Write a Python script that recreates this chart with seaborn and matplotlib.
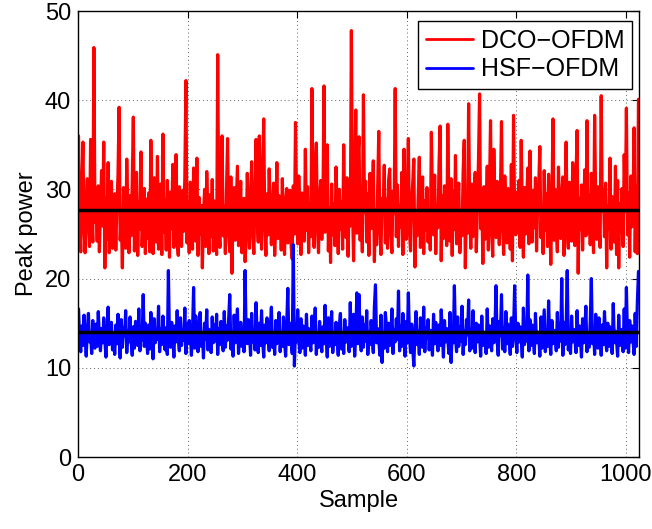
import numpy as np
import pandas as pd
import matplotlib
matplotlib.use("Agg")
import matplotlib.pyplot as plt
import seaborn as sns

# ---- data (one value every 2 samples) ----
dco_ofdm = [
    36.0, 27.1, 23.0, 29.8, 35.3, 25.6, 22.9, 28.4, 31.2, 26.0, 23.6, 35.6, 27.9, 24.1, 45.9, 26.3,
    28.7, 24.2, 30.4, 23.0, 27.5, 32.1, 25.9, 35.3, 21.2, 29.0, 24.4, 33.0, 22.9, 27.8, 30.9, 23.4,
    26.8, 29.5, 23.2, 28.1, 31.6, 39.2, 24.3, 27.0, 21.2, 30.2, 26.1, 23.4, 33.4, 27.6, 22.9, 29.3,
    24.8, 30.7, 38.1, 23.1, 27.3, 31.9, 22.6, 28.6, 25.5, 34.2, 23.6, 27.7, 30.1, 22.8, 28.9, 24.5,
    29.6, 23.0, 35.5, 26.9, 22.8, 31.3, 27.4, 24.1, 33.7, 23.3, 28.3, 30.6, 22.7, 36.2, 25.2, 28.8,
    23.2, 31.0, 27.2, 22.4, 29.7, 25.6, 32.8, 23.5, 28.0, 33.9, 24.4, 22.6, 30.3, 27.1, 23.6, 29.9,
    25.3, 31.5, 42.2, 24.0, 28.5, 22.9, 30.8, 26.7, 23.3, 32.4, 27.9, 24.2, 33.5, 22.6, 29.1, 25.0,
    28.2, 21.2, 26.8, 30.0, 23.6, 32.0, 27.5, 22.8, 29.4, 24.7, 31.1, 23.1, 28.7, 25.4, 22.7, 45.1,
    27.0, 23.5, 30.5, 36.0, 24.8, 28.1, 22.8, 29.8, 35.7, 25.2, 23.0, 31.4, 20.6, 27.6, 30.2, 24.3,
    28.4, 32.6, 23.7, 27.3, 30.9, 22.9, 25.5, 29.0, 21.9, 24.6, 31.8, 27.7, 23.4, 28.9, 33.1, 25.1,
    22.8, 29.2, 35.6, 27.0, 24.1, 36.0, 28.6, 23.3, 31.7, 37.9, 25.9, 22.6, 29.5, 24.9, 32.3, 27.4,
    23.8, 28.3, 30.7, 22.6, 26.7, 33.0, 24.5, 29.3, 27.8, 23.2, 31.2, 25.3, 22.7, 28.8, 30.1, 24.0,
    27.2, 29.9, 23.6, 22.2, 30.4, 25.0, 37.5, 28.1, 23.9, 31.5, 27.3, 22.7, 29.6, 25.6, 24.2, 34.5,
    25.4, 30.3, 22.9, 28.5, 24.7, 41.3, 27.1, 23.5, 32.2, 35.2, 25.8, 22.9, 29.1, 31.0, 24.4, 28.0,
    41.6, 25.2, 29.7, 35.0, 23.1, 27.9, 21.8, 30.6, 24.9, 28.4, 23.7, 32.5, 27.5, 22.8, 30.0, 25.5,
    28.6, 23.3, 35.0, 27.0, 24.6, 31.3, 22.5, 29.2, 25.9, 47.8, 28.2, 22.0, 30.7, 38.9, 25.1, 33.6,
    35.9, 24.3, 28.7, 23.0, 40.6, 27.4, 30.9, 24.1, 29.5, 22.6, 31.8, 25.6, 28.1, 33.2, 21.9, 27.7,
    23.8, 30.1, 36.5, 25.3, 22.7, 29.0, 27.6, 32.7, 24.0, 28.9, 23.4, 31.1, 32.3, 25.0, 22.9, 29.8,
    27.3, 41.3, 24.7, 30.5, 23.6, 28.2, 25.8, 31.9, 22.7, 34.5, 27.0, 24.4, 29.7, 35.7, 25.2, 23.1,
    28.5, 30.8, 33.4, 21.3, 27.2, 24.8, 29.4, 33.6, 23.5, 27.9, 31.4, 22.8, 28.7, 25.4, 30.2, 24.1,
    27.6, 23.2, 36.4, 29.1, 24.9, 31.6, 22.8, 28.3, 25.7, 32.9, 37.1, 22.0, 29.3, 24.5, 30.4, 27.0,
    23.7, 37.3, 28.0, 24.2, 31.2, 22.6, 29.8, 25.5, 33.8, 23.9, 28.6, 30.7, 22.9, 27.4, 24.8, 32.0,
    35.5, 21.2, 28.4, 25.1, 39.6, 27.3, 23.4, 30.6, 24.7, 29.2, 31.9, 23.0, 27.8, 33.3, 40.7, 25.6,
    28.9, 21.7, 30.3, 24.4, 27.5, 32.6, 23.2, 29.6, 37.7, 25.3, 22.5, 34.5, 28.1, 24.6, 30.9, 27.2,
    23.8, 29.4, 37.6, 25.9, 22.7, 31.5, 27.8, 24.0, 30.1, 28.5, 23.3, 32.8, 22.0, 38.3, 27.1, 24.9,
    29.7, 25.2, 31.0, 23.5, 35.5, 27.6, 22.4, 30.2, 25.0, 28.8, 32.4, 23.9, 34.3, 27.3, 24.1, 29.9,
    25.7, 31.3, 23.1, 28.2, 30.6, 34.8, 24.6, 27.9, 22.8, 32.1, 25.4, 29.5, 23.6, 31.7, 27.0, 21.6,
    28.6, 37.9, 24.3, 30.0, 25.8, 23.0, 32.5, 27.7, 24.5, 29.3, 31.4, 22.6, 28.0, 35.3, 25.3, 23.4,
    30.8, 27.4, 24.2, 33.0, 28.3, 23.7, 31.2, 36.6, 20.6, 29.0, 25.5, 30.5, 23.2, 27.9, 32.2, 24.8,
    37.7, 25.1, 29.4, 23.8, 31.8, 27.2, 22.9, 38.3, 28.7, 24.4, 30.3, 25.9, 23.5, 40.5, 27.6, 29.9,
    24.7, 30.7, 21.2, 28.1, 25.6, 33.5, 23.3, 29.2, 27.0, 24.1, 32.6, 22.7, 31.0, 21.2, 28.4, 25.2,
    30.1, 23.6, 33.9, 27.5, 39.1, 24.9, 29.6, 22.4, 31.5, 25.8, 28.3, 36.9, 23.0, 30.4, 22.8, 40.1,
]

hsf_ofdm = [
    16.6, 13.2, 11.8, 14.7, 12.5, 15.9, 13.4, 11.3, 14.2, 16.1, 12.9, 13.8, 11.6, 15.3, 13.0, 12.2,
    14.9, 12.4, 16.3, 13.5, 11.9, 14.4, 12.8, 15.6, 13.1, 11.2, 14.0, 16.8, 12.6, 13.7, 15.1, 12.0,
    13.9, 11.5, 14.8, 12.7, 16.0, 13.3, 11.1, 15.4, 12.3, 14.5, 13.6, 16.4, 11.7, 14.1, 12.9, 15.7,
    13.0, 11.4, 14.6, 12.2, 15.2, 13.8, 12.5, 16.6, 11.9, 14.3, 13.1, 18.2, 12.4, 15.0, 13.5, 11.6,
    14.8, 12.1, 16.2, 13.4, 11.0, 15.5, 12.8, 14.0, 13.2, 16.9, 11.8, 14.4, 12.6, 15.8, 13.7, 12.0,
    14.5, 11.5, 20.9, 13.0, 12.3, 15.1, 13.6, 11.2, 14.7, 12.9, 16.4, 13.3, 11.9, 15.6, 12.5, 14.2,
    13.1, 16.7, 11.6, 14.9, 12.7, 15.3, 13.9, 11.4, 14.1, 19.0, 12.2, 15.8, 13.5, 11.8, 14.6, 16.2,
    12.4, 13.8, 11.1, 15.0, 13.2, 16.5, 12.0, 14.3, 13.6, 11.7, 15.7, 12.8, 14.8, 13.0, 16.0, 11.5,
    14.4, 12.6, 15.2, 13.4, 11.9, 16.3, 12.3, 14.7, 13.1, 15.5, 18.2, 12.1, 13.7, 11.3, 15.9, 12.8,
    14.0, 16.6, 11.6, 13.5, 15.1, 12.4, 14.6, 11.8, 20.9, 13.3, 12.7, 15.4, 13.9, 11.4, 16.1, 12.9,
    14.2, 12.0, 17.3, 13.6, 11.7, 15.0, 12.5, 16.4, 13.1, 11.2, 14.8, 12.8, 15.6, 13.4, 11.9, 14.5,
    16.8, 12.3, 13.9, 11.5, 15.3, 12.7, 14.1, 16.2, 11.8, 13.7, 12.4, 15.7, 13.0, 11.3, 14.9, 18.9,
    12.6, 15.0, 13.5, 11.6, 23.8, 10.2, 14.3, 12.9, 16.5, 13.2, 11.7, 15.5, 12.2, 14.7, 13.8, 11.4,
    16.0, 12.5, 14.4, 13.1, 11.9, 15.8, 12.8, 14.0, 16.7, 11.5, 13.6, 12.3, 15.2, 13.0, 11.8, 14.6,
    12.7, 17.0, 13.4, 11.2, 15.6, 12.4, 14.1, 16.3, 11.7, 13.8, 12.6, 15.1, 13.3, 11.4, 14.8, 16.1,
    12.1, 13.9, 11.6, 15.4, 12.9, 14.5, 13.2, 11.8, 17.3, 12.4, 14.2, 16.0, 11.3, 13.7, 18.4, 12.7,
    18.2, 13.5, 11.9, 15.7, 12.3, 14.8, 13.0, 16.4, 11.5, 14.0, 12.6, 15.3, 13.6, 11.7, 16.9, 19.3,
    12.8, 14.4, 13.1, 11.4, 15.9, 10.6, 13.8, 12.2, 16.2, 14.6, 11.8, 15.0, 12.5, 13.4, 16.6, 11.6,
    14.3, 12.9, 15.5, 13.2, 18.6, 11.9, 14.7, 12.4, 16.1, 13.7, 11.3, 15.2, 12.8, 18.4, 13.5, 11.7,
    14.9, 12.2, 10.2, 13.9, 16.3, 12.6, 14.1, 11.5, 15.6, 13.0, 12.3, 16.8, 11.8, 14.5, 13.3, 15.4,
    12.0, 14.2, 13.6, 11.4, 16.0, 12.7, 15.1, 13.1, 11.9, 14.8, 12.5, 16.5, 13.8, 11.2, 15.3, 12.9,
    14.4, 13.2, 11.6, 16.2, 10.6, 14.0, 12.8, 19.2, 13.5, 11.8, 15.7, 12.4, 14.6, 13.0, 16.9, 11.5,
    14.1, 12.6, 15.4, 13.7, 17.6, 11.9, 14.3, 12.2, 16.4, 13.3, 11.7, 15.0, 12.9, 14.8, 13.6, 11.3,
    15.8, 12.5, 14.0, 13.1, 11.6, 16.6, 12.3, 14.7, 13.4, 11.9, 15.5, 12.8, 14.2, 19.2, 13.0, 11.4,
    15.2, 13.6, 18.2, 12.1, 14.5, 11.8, 16.3, 12.7, 14.9, 13.2, 11.5, 15.6, 12.4, 14.1, 19.2, 13.8,
    11.7, 15.0, 12.9, 14.6, 13.3, 11.2, 16.7, 12.6, 14.3, 13.0, 20.4, 11.9, 15.4, 12.5, 14.8, 13.5,
    11.6, 16.1, 12.8, 14.0, 13.4, 11.3, 15.7, 12.2, 14.4, 16.5, 11.8, 13.7, 12.4, 17.5, 13.1, 11.5,
    15.3, 12.7, 14.2, 13.6, 11.9, 16.2, 12.3, 14.9, 13.0, 20.0, 11.4, 15.1, 12.6, 14.5, 20.9, 12.0,
    13.8, 11.6, 15.8, 12.9, 14.3, 13.2, 11.7, 16.4, 12.5, 14.7, 13.4, 11.2, 15.5, 12.8, 14.0, 16.9,
    11.8, 13.6, 12.3, 15.2, 20.0, 12.7, 14.4, 11.5, 16.0, 13.1, 12.2, 15.6, 13.9, 11.4, 14.8, 12.6,
    16.3, 13.3, 11.9, 15.0, 12.4, 14.6, 13.7, 11.6, 17.2, 12.8, 14.1, 13.0, 11.3, 15.9, 12.5, 14.3,
    13.5, 11.8, 16.6, 12.2, 19.0, 13.4, 11.7, 15.3, 12.9, 14.7, 13.1, 11.5, 16.1, 12.4, 17.4, 20.8,
]

dco_mean = 27.7
hsf_mean = 14.0
series_names = ["DCO\u2212OFDM", "HSF\u2212OFDM"]
x_ticks = [0, 200, 400, 600, 800, 1000]
y_ticks = [0, 10, 20, 30, 40, 50]

samples = np.arange(len(dco_ofdm)) * 2 + 1
df = pd.DataFrame({
    "Sample": np.concatenate([samples, samples]),
    "Peak power": np.concatenate([dco_ofdm, hsf_ofdm]),
    "series": [series_names[0]] * len(dco_ofdm) + [series_names[1]] * len(hsf_ofdm),
})

sns.set_style("white")
plt.rcParams["font.family"] = ["Liberation Sans", "DejaVu Sans"]
plt.rcParams["text.color"] = "black"
plt.rcParams["axes.labelcolor"] = "black"
plt.rcParams["xtick.color"] = "black"
plt.rcParams["ytick.color"] = "black"

fig = plt.figure(figsize=(6.52, 5.29), dpi=100)
ax = fig.add_axes([78 / 652, (529 - 457) / 529, (639 - 78) / 652, (457 - 11) / 529])

sns.lineplot(data=df, x="Sample", y="Peak power", hue="series",
             palette={series_names[0]: "#ff0000", series_names[1]: "#0000ff"},
             linewidth=2.3, ax=ax, estimator=None, sort=False)

ax.axhline(dco_mean, color="black", linewidth=2.5, zorder=5)
ax.axhline(hsf_mean, color="black", linewidth=2.5, zorder=5)

ax.set_xlim(0, 1024)
ax.set_ylim(0, 50)
ax.set_xticks(x_ticks)
ax.set_yticks(y_ticks)
ax.grid(True, linestyle=(0, (1, 3)), color="#606060", linewidth=0.7)
ax.set_axisbelow(True)
for s in ax.spines.values():
    s.set_color("black")
    s.set_linewidth(1.0)
ax.tick_params(direction="in", length=5, width=0.8, top=True, right=True,
               labelsize=17, pad=5, colors="black", labelcolor="black")
ax.set_xlabel("Sample", fontsize=17, labelpad=3, color="black")
ax.set_ylabel("Peak power", fontsize=17, labelpad=5, color="black")

leg = ax.legend(loc="upper right", bbox_to_anchor=((632 - 78) / 561, (457 - 21) / 446),
                borderaxespad=0, fontsize=18, frameon=True, fancybox=False,
                framealpha=1, edgecolor="black", handlelength=1.9, handletextpad=0.3,
                borderpad=0.3, labelspacing=0.2, title=None)
leg.get_frame().set_linewidth(1.0)
for line in leg.get_lines():
    line.set_linewidth(2.0)
for t in leg.get_texts():
    t.set_color("black")

fig.savefig("out.png", dpi=100)
